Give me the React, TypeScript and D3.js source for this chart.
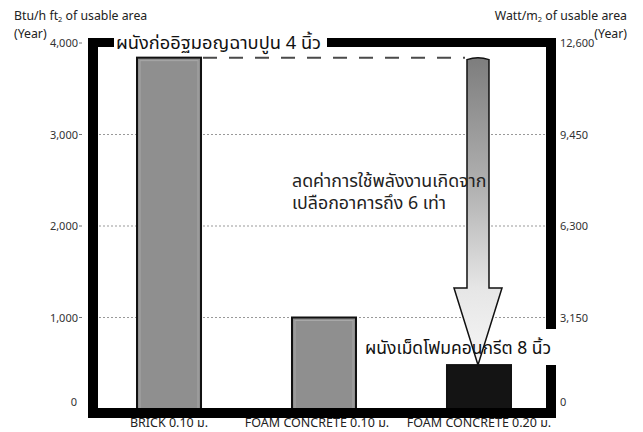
import React from "react";
import * as d3 from "d3";

// Heat gain through the building envelope, per wall type
const categories = ["BRICK 0.10 ม.", "FOAM CONCRETE 0.10 ม.", "FOAM CONCRETE 0.20 ม."];
const values = [3840, 1000, 480];
const barFills = ["#8f8f8f", "#8f8f8f", "#141414"];
const leftTicks = [0, 1000, 2000, 3000, 4000];
const rightTicks = [0, 3150, 6300, 9450, 12600];
const gridValues = [1000, 2000, 3000];
const noteLines = ["ลดค่าการใช้พลังงานเกิดจาก", "เปลือกอาคารถึง 6 เท่า"];

const W = 643;
const H = 432;
const FONT = "Tahoma, 'Noto Sans Thai', Loma, Garuda, 'DejaVu Sans', sans-serif";

export default function App() {
  const plotLeft = 99;
  const plotRight = 546;
  const yLeft = d3.scaleLinear().domain([0, 4000]).range([409, 43]);
  const yRight = d3.scaleLinear().domain([0, 12600]).range([409, 43]);
  const x = d3.scaleBand<string>().domain(categories).range([137, 511]).paddingInner(0.587).paddingOuter(0);
  const bw = x.bandwidth();
  const fmt = d3.format(",");

  const y0 = yLeft(0);
  const frameW = 10;
  const frameTop = 38;
  const frameL = 88;
  const frameR = 546;

  // Arrow from brick level down to the 0.20 m foam concrete bar
  const topY = yLeft(values[0]);
  const tipY = yLeft(values[2]);
  const cx = (x(categories[2]) as number) + bw / 2 - 1;
  const shaftHalf = 11;
  const headHalf = 24;
  const headBase = tipY - 77;
  const arrowPath = d3.path();
  arrowPath.moveTo(cx - shaftHalf, topY + 2);
  arrowPath.quadraticCurveTo(cx, topY - 2, cx + shaftHalf, topY + 2);
  arrowPath.lineTo(cx + shaftHalf, headBase);
  arrowPath.lineTo(cx + headHalf, headBase);
  arrowPath.lineTo(cx, tipY);
  arrowPath.lineTo(cx - headHalf, headBase);
  arrowPath.lineTo(cx - shaftHalf, headBase);
  arrowPath.closePath();

  const dashStart = (x(categories[0]) as number) + bw + 2;
  const dashEnd = cx - shaftHalf - 2;

  return (
    <svg width={W} height={H} viewBox={`0 0 ${W} ${H}`} style={{ position: "absolute", left: 0, top: 0, background: "#fff" }}>
      <defs>
        <linearGradient id="shaftGrad" x1="0" y1={topY} x2="0" y2={tipY} gradientUnits="userSpaceOnUse">
          <stop offset="0" stopColor="#7d7d7d" />
          <stop offset="0.45" stopColor="#b5b5b5" />
          <stop offset="0.75" stopColor="#e6e6e6" />
          <stop offset="1" stopColor="#f6f6f6" />
        </linearGradient>
      </defs>
      <rect x={0} y={0} width={W} height={H} fill="#fff" />

      {/* gridlines */}
      {gridValues.map((v) => (
        <line key={v} x1={plotLeft} x2={plotRight} y1={yLeft(v)} y2={yLeft(v)} stroke="#999" strokeWidth={1} strokeDasharray="2,2" />
      ))}

      {/* bars */}
      {categories.map((c, i) => (
        <g key={c}>
          <rect x={x(c)} y={yLeft(values[i])} width={bw} height={y0 - yLeft(values[i])} fill={barFills[i]} stroke="#111" strokeWidth={2} />
          {i < 2 && (
            <rect x={(x(c) as number) + 3} y={yLeft(values[i]) + 3} width={bw - 6} height={y0 - yLeft(values[i]) - 3} fill="none" stroke="#a8a8a8" strokeWidth={1} />
          )}
        </g>
      ))}

      {/* reference level of the brick wall */}
      <line x1={dashStart} x2={dashEnd} y1={topY} y2={topY} stroke="#4a4a4a" strokeWidth={2} strokeDasharray="14,12" />

      {/* arrow */}
      <path d={arrowPath.toString()} fill="url(#shaftGrad)" stroke="#111" strokeWidth={1.5} strokeLinejoin="miter" />

      {/* thick frame */}
      <rect x={frameL} y={frameTop} width={frameW} height={418 - frameTop} fill="#000" />
      <rect x={frameL} y={frameTop} width={114 - frameL} height={9} fill="#000" />
      <rect x={327} y={frameTop} width={frameR + frameW - 327} height={9} fill="#000" />
      <rect x={frameR} y={frameTop} width={frameW} height={329 - frameTop} fill="#000" />
      <rect x={frameR} y={365} width={frameW} height={418 - 365} fill="#000" />
      <rect x={frameL} y={y0 - 1} width={frameR + frameW - frameL} height={418 - y0 + 1} fill="#000" />

      {/* left axis */}
      {leftTicks.map((v) => (
        <g key={v}>
          <text x={v === 0 ? 77 : 78} y={yLeft(v) + (v === 0 ? -3 : 4)} textAnchor="end" fontFamily={FONT} fontSize={11} fill="#333">
            {fmt(v)}
          </text>
          {v > 0 && <line x1={79} x2={82} y1={yLeft(v)} y2={yLeft(v)} stroke="#777" strokeWidth={1} />}
        </g>
      ))}

      {/* right axis */}
      {rightTicks.map((v) => (
        <text key={v} x={560} y={yRight(v) + (v === 0 ? -3 : 4)} textAnchor="start" fontFamily={FONT} fontSize={11} fill="#333">
          {fmt(v)}
        </text>
      ))}

      {/* axis titles */}
      <text x={14} y={20} fontFamily={FONT} fontSize={12.3} fill="#222">
        Btu/h ft<tspan fontSize={7.5} dy={2}>2</tspan><tspan dy={-2}> of usable area</tspan>
      </text>
      <text x={14} y={38} fontFamily={FONT} fontSize={12.3} fill="#222">(Year)</text>
      <text x={627} y={20} textAnchor="end" fontFamily={FONT} fontSize={12.3} fill="#222">
        Watt/m<tspan fontSize={7.5} dy={2}>2</tspan><tspan dy={-2}> of usable area</tspan>
      </text>
      <text x={627} y={38} textAnchor="end" fontFamily={FONT} fontSize={12.3} fill="#222">(Year)</text>

      {/* category labels */}
      {categories.map((c, i) => (
        <text key={c} x={(x(c) as number) + bw / 2 + (i === 1 ? -7 : 0)} y={427} textAnchor="middle" fontFamily={FONT} fontSize={12.5} fill="#222">
          {c}
        </text>
      ))}

      {/* annotations */}
      <text x={116} y={49} fontFamily={FONT} fontSize={18.3} fill="#111">ผนังก่ออิฐมอญฉาบปูน 4 นิ้ว</text>
      <text x={292} y={187} fontFamily={FONT} fontSize={17.8} fill="#222">
        {noteLines.map((line, i) => (
          <tspan key={line} x={292} dy={i === 0 ? 0 : 22}>{line}</tspan>
        ))}
      </text>
      <text x={365} y={354} fontFamily={FONT} fontSize={17.5} fill="#111">ผนังเม็ดโฟมคอนกรีต 8 นิ้ว</text>
    </svg>
  );
}
